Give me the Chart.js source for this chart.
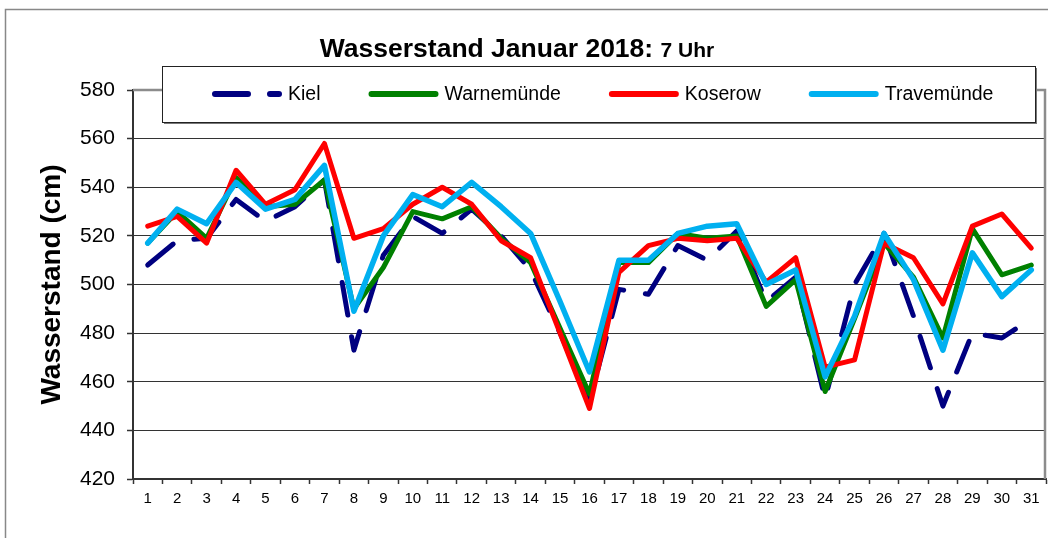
<!DOCTYPE html>
<html>
<head>
<meta charset="utf-8">
<script src="https://cdn.jsdelivr.net/npm/chart.js@4.4.1/dist/chart.umd.min.js"></script>
<style>
  html, body { margin: 0; padding: 0; background: #fff; }
  #chart { display: block; }
</style>
</head>
<body>
<canvas id="chart" width="1048" height="538"></canvas>
<script>
const days = ['1','2','3','4','5','6','7','8','9','10','11','12','13','14','15','16','17','18','19','20','21','22','23','24','25','26','27','28','29','30','31'];

const kiel        = [508, 518, 519, 535, 526, 532, 543, 473, 512, 528, 521, 531, 520, 506, 480, 452, 498, 496, 516, 510, 522, 493, 503, 453, 500, 521, 487, 450, 480, 478, 486];
const warnemuende = [517, 530, 519, 544, 532, 533, 543, 490, 507, 530, 527, 532, 519, 509, 482, 455, 509, 509, 521, 519, 520, 491, 502, 456, 486, 517, 503, 478, 523, 504, 508];
const koserow     = [524, 528, 517, 547, 533, 539, 558, 519, 523, 533, 540, 533, 518, 511, 480, 449, 505, 516, 519, 518, 519, 501, 511, 466, 469, 517, 511, 492, 524, 529, 515];
const travemuende = [517, 531, 525, 542, 531, 535, 549, 489, 520, 537, 532, 542, 532, 521, 493, 464, 510, 510, 521, 524, 525, 500, 506, 462, 487, 521, 502, 473, 513, 495, 506];

const yMin = 420, yMax = 580, yStep = 20;
const font = '"Liberation Sans", Arial, sans-serif';

// outer frame + grey top/right border of the plot
const frame = {
  id: 'frame',
  beforeDraw(chart){
    const ctx = chart.ctx;
    ctx.save();
    ctx.strokeStyle = '#888';
    ctx.lineWidth = 1.5;
    ctx.strokeRect(5.5, 9.5, 1100, 600);
    ctx.restore();
  },
  beforeDatasetsDraw(chart){
    const { ctx, chartArea: a } = chart;
    ctx.save();
    ctx.strokeStyle = '#8c8c8c';
    ctx.lineWidth = 2.5;
    ctx.beginPath();
    ctx.moveTo(a.left, a.top);
    ctx.lineTo(a.right - 1, a.top);
    ctx.lineTo(a.right - 1, a.bottom);
    ctx.stroke();
    ctx.restore();
  }
};

// boxed legend overlapping the plot top, like the Excel original
const boxLegend = {
  id: 'boxLegend',
  afterDatasetsDraw(chart){
    const ctx = chart.ctx;
    ctx.save();
    ctx.fillStyle = '#777';
    ctx.fillRect(164, 68, 873, 56);
    ctx.fillStyle = '#fff';
    ctx.fillRect(162, 66, 873, 56);
    ctx.strokeStyle = '#222';
    ctx.lineWidth = 1;
    ctx.strokeRect(162.5, 66.5, 873, 56);
    ctx.font = '19.5px ' + font;
    ctx.textBaseline = 'middle';
    let x = 212;
    const y = 94;
    chart.data.datasets.forEach(ds => {
      ctx.beginPath();
      ctx.setLineDash(ds.borderDash || []);
      ctx.lineCap = 'round';
      ctx.strokeStyle = ds.borderColor;
      ctx.lineWidth = 6;
      ctx.moveTo(x + 3, y);
      ctx.lineTo(x + 67, y);
      ctx.stroke();
      ctx.setLineDash([]);
      ctx.fillStyle = '#000';
      ctx.fillText(ds.label, x + 76, y + 1);
      x += 76 + ctx.measureText(ds.label).width + 48;
    });
    ctx.restore();
  }
};

// title with the smaller "7 Uhr" part
const mixedTitle = {
  id: 'mixedTitle',
  afterDraw(chart){
    const ctx = chart.ctx;
    const t1 = 'Wasserstand Januar 2018: ', t2 = '7 Uhr';
    ctx.save();
    ctx.fillStyle = '#000';
    ctx.textBaseline = 'alphabetic';
    ctx.font = 'bold 26.5px ' + font;
    const w1 = ctx.measureText(t1).width;
    ctx.font = 'bold 21px ' + font;
    const w2 = ctx.measureText(t2).width;
    const x0 = 517 - (w1 + w2) / 2;
    ctx.font = 'bold 26.5px ' + font;
    ctx.fillText(t1, x0, 57);
    ctx.font = 'bold 21px ' + font;
    ctx.fillText(t2, x0 + w1, 57);
    ctx.restore();
  }
};

function line(label, data, color, extra){
  return Object.assign({
    label, data,
    borderColor: color,
    backgroundColor: color,
    borderWidth: 5,
    pointRadius: 0,
    tension: 0,
    fill: false,
    borderJoinStyle: 'round',
    borderCapStyle: 'round'
  }, extra || {});
}

new Chart(document.getElementById('chart'), {
  type: 'line',
  data: {
    labels: days,
    datasets: [
      line('Kiel', kiel, '#000080', { borderDash: [33, 22], order: 4 }),
      line('Warnemünde', warnemuende, '#008000', { order: 3 }),
      line('Koserow', koserow, '#FF0000', { order: 2 }),
      line('Travemünde', travemuende, '#00B0F0', { borderWidth: 5.5, order: 1 })
    ]
  },
  options: {
    responsive: false,
    animation: false,
    layout: { padding: { left: 5, top: 90, right: 2, bottom: 0 } },
    plugins: {
      legend: { display: false },
      title: { display: false },
      tooltip: { enabled: false }
    },
    scales: {
      x: {
        offset: true,
        afterFit(s){ s.height = 59; },
        grid: {
          offset: true,
          drawOnChartArea: false,
          drawTicks: true,
          tickLength: 5,
          tickColor: '#333',
          tickWidth: 1.5
        },
        border: { color: '#333', width: 2 },
        ticks: {
          color: '#000',
          font: { family: font, size: 15 },
          padding: 6,
          maxRotation: 0,
          autoSkip: false
        }
      },
      y: {
        min: yMin,
        max: yMax,
        afterFit(s){ s.width = 128; },
        grid: {
          color: ctx => (ctx.tick && (ctx.tick.value === yMin || ctx.tick.value === yMax)) ? 'rgba(0,0,0,0)' : '#333',
          lineWidth: 1,
          borderDash: [1, 1],
          tickLength: 6,
          tickColor: '#333',
          tickWidth: 1.5,
          tickBorderDash: []
        },
        border: { color: '#333', width: 2 },
        ticks: {
          stepSize: yStep,
          color: '#000',
          font: { family: font, size: 21 },
          padding: 12
        },
        title: {
          display: true,
          text: 'Wasserstand (cm)',
          color: '#000',
          font: { family: font, size: 28, weight: 'bold' },
          padding: { top: 30, bottom: 0 }
        }
      }
    }
  },
  plugins: [frame, boxLegend, mixedTitle]
});
</script>
</body>
</html>
